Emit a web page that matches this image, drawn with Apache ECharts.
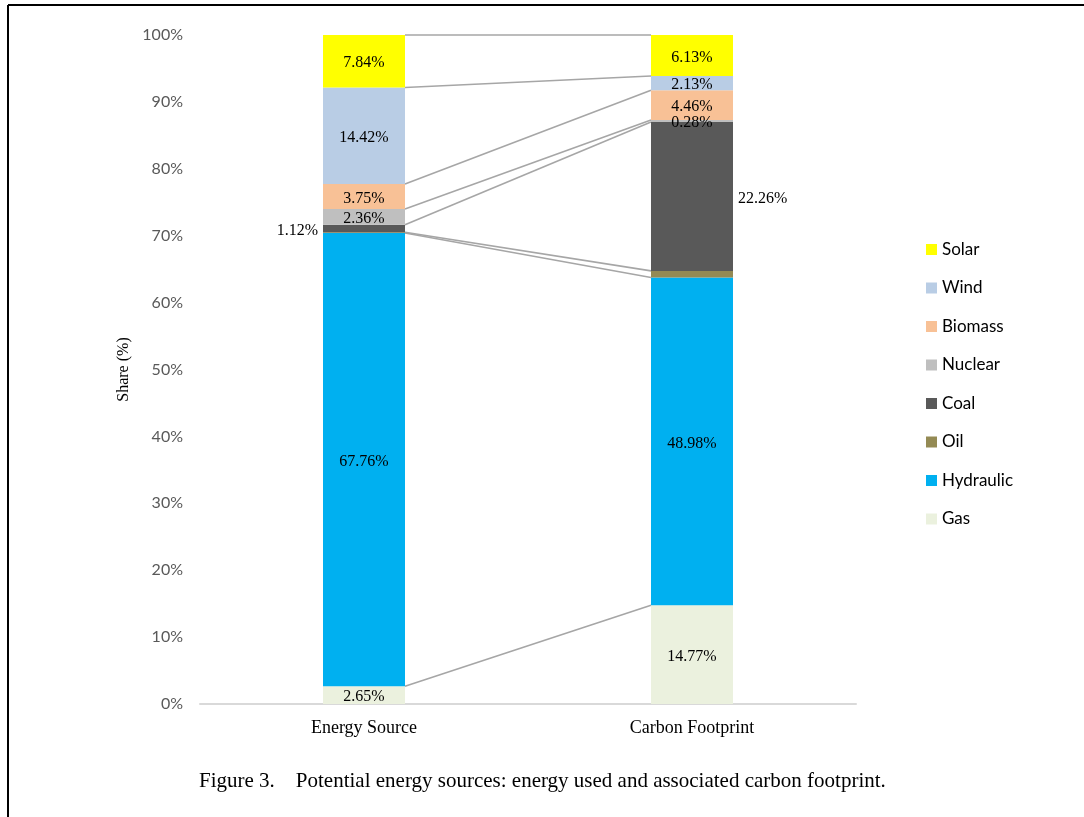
<!DOCTYPE html>
<html>
<head>
<meta charset="utf-8">
<script src="https://cdn.jsdelivr.net/npm/echarts@6/dist/echarts.min.js"></script>
<style>
  html, body { margin: 0; padding: 0; background: #fff; }
  #chart { width: 1084px; height: 817px; }
</style>
</head>
<body>
<div id="chart"></div>
<script>
// Categories along the x axis
const categories = ['Energy Source', 'Carbon Footprint'];

// Energy types, bottom of the stack first
const sources = ['Gas', 'Hydraulic', 'Oil', 'Coal', 'Nuclear', 'Biomass', 'Wind', 'Solar'];

// Share (%) per energy type: [Energy Source, Carbon Footprint]
const gas       = [2.65, 14.77];
const hydraulic = [67.76, 48.98];
const oil       = [0.10, 0.99];
const coal      = [1.12, 22.26];
const nuclear   = [2.36, 0.28];
const biomass   = [3.75, 4.46];
const wind      = [14.42, 2.13];
const solar     = [7.84, 6.13];

const seriesValues = [gas, hydraulic, oil, coal, nuclear, biomass, wind, solar];

const colors = ['#EBF1DE', '#00B0F0', '#948A54', '#595959', '#BFBFBF', '#F8C196', '#B9CDE5', '#FFFF00'];

// Legend order, top to bottom
const legendOrder = ['Solar', 'Wind', 'Biomass', 'Nuclear', 'Coal', 'Oil', 'Hydraulic', 'Gas'];

// Y axis tick settings
const yMin = 0, yMax = 100, yStep = 10;

const serif = 'Liberation Serif, Times New Roman, serif';
const sans = 'Lato, Open Sans, sans-serif';

// Label placement per series and bar: 'inside', 'left', 'right' or null (hidden)
const labelPlacement = {
  Gas: ['inside', 'inside'],
  Hydraulic: ['inside', 'inside'],
  Oil: [null, null],
  Coal: ['left', 'right'],
  Nuclear: ['inside', 'inside'],
  Biomass: ['inside', 'inside'],
  Wind: ['inside', 'inside'],
  Solar: ['inside', 'inside']
};

const barSeries = sources.map((name, i) => ({
  name: name,
  type: 'bar',
  stack: 'share',
  barWidth: '25%',
  itemStyle: { color: colors[i] },
  emphasis: { disabled: true },
  data: seriesValues[i].map((v, j) => {
    const pos = labelPlacement[name][j];
    return {
      value: v,
      label: {
        show: pos !== null,
        position: pos || 'inside',
        distance: 5,
        offset: [0, 2],
        formatter: (p) => p.value.toFixed(2) + '%',
        color: '#000',
        fontFamily: serif,
        fontSize: 16
      }
    };
  })
}));

// Cumulative tops of each segment, used by the connector lines
const connectorData = [];
let accA = 0, accB = 0;
seriesValues.forEach((vals) => {
  accA += vals[0];
  accB += vals[1];
  connectorData.push([0, accA, accB]);
});

const connectorSeries = {
  type: 'custom',
  name: 'connectors',
  silent: true,
  z: 1,
  encode: { x: 0, y: [1, 2] },
  data: connectorData,
  renderItem: function (params, api) {
    const halfBar = api.size([1, 0])[0] * 0.25 / 2;
    const p1 = api.coord([0, api.value(1)]);
    const p2 = api.coord([1, api.value(2)]);
    return {
      type: 'line',
      shape: { x1: p1[0] + halfBar, y1: p1[1], x2: p2[0] - halfBar, y2: p2[1] },
      style: { stroke: '#A6A6A6', lineWidth: 1.6 }
    };
  }
};

const chart = echarts.init(document.getElementById('chart'), null, { renderer: 'canvas' });

chart.setOption({
  backgroundColor: '#fff',
  animation: false,
  title: {
    text: 'Figure 3.    Potential energy sources: energy used and associated carbon footprint.',
    left: 194,
    top: 766,
    textStyle: { fontFamily: serif, fontSize: 21, fontWeight: 'normal', color: '#000' }
  },
  grid: { left: 200, right: 228, top: 35, bottom: 113 },
  legend: {
    data: legendOrder,
    orient: 'vertical',
    left: 921,
    top: 236,
    itemWidth: 11,
    itemHeight: 11,
    itemGap: 21.5,
    icon: 'rect',
    textStyle: { fontFamily: sans, fontSize: 17, color: '#000' },
    selectedMode: false
  },
  xAxis: {
    type: 'category',
    data: categories,
    axisLine: { lineStyle: { color: '#D9D9D9', width: 2 } },
    axisTick: { show: false },
    axisLabel: { fontFamily: serif, fontSize: 18, color: '#000', margin: 15 }
  },
  yAxis: {
    type: 'value',
    min: yMin,
    max: yMax,
    interval: yStep,
    name: 'Share (%)',
    nameLocation: 'middle',
    nameGap: 68,
    nameTextStyle: { fontFamily: serif, fontSize: 16, color: '#000' },
    axisLine: { show: false },
    axisTick: { show: false },
    splitLine: { show: false },
    axisLabel: { formatter: '{value}%', fontFamily: sans, fontSize: 16, color: '#595959', margin: 17 }
  },
  graphic: [
    { type: 'line', shape: { x1: 8, y1: 5, x2: 1084, y2: 5 }, style: { stroke: '#000', lineWidth: 2 } },
    { type: 'line', shape: { x1: 8, y1: 5, x2: 8, y2: 817 }, style: { stroke: '#000', lineWidth: 2 } }
  ],
  series: barSeries.concat([connectorSeries])
});
</script>
</body>
</html>
